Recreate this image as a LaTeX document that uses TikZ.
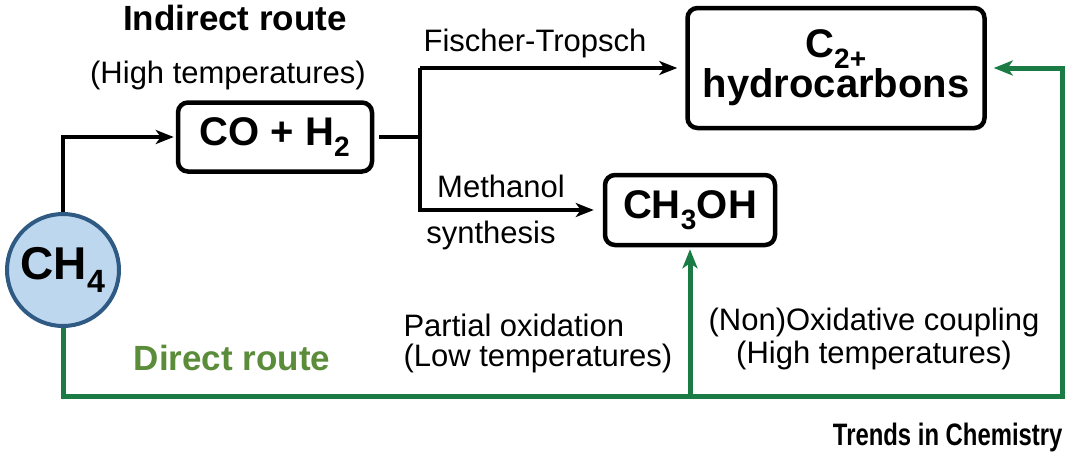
\documentclass[tikz,border=0pt]{standalone}
\usepackage{fontspec}
\setmainfont{Liberation Sans}
\usepackage{tikz}
\usetikzlibrary{arrows.meta,positioning,calc}
\definecolor{chfill}{HTML}{BDD7EE}
\definecolor{chedge}{HTML}{2E5A84}
\definecolor{routegreen}{HTML}{1B7B45}
\definecolor{labelgreen}{HTML}{5B8C3A}
\tikzset{
  prodbox/.style={draw, line width=4.5pt, rounded corners=10pt, fill=white, align=center,
    font=\fontsize{40}{42}\selectfont\bfseries},
  blackline/.style={line width=4.5pt, -{Stealth[length=18pt,width=14pt,inset=5pt]}},
  greenline/.style={line width=5pt, routegreen, -{Stealth[length=19pt,width=15pt,inset=5pt]}},
  routetext/.style={font=\fontsize{31}{33}\selectfont},
}
\newcommand{\RouteTitle}[4]{%
  \node[font=\fontsize{35}{37}\selectfont\bfseries, text=#4] (#1) at (#2) {#3};
}
\begin{document}
\begin{tikzpicture}[x=1pt,y=-1pt]
  \useasboundingbox (0,0) rectangle (1080,459);
  % species
  \node[circle, draw=chedge, line width=4pt, fill=chfill, minimum size=112pt,
    font=\fontsize{46}{48}\selectfont\bfseries] (ch4) at (63,270) {CH\textsubscript{4}};
  \node[prodbox, minimum width=194pt, minimum height=69pt] (syngas) at (275,137) {CO + H\textsubscript{2}};
  \node[prodbox, minimum width=297pt, minimum height=120pt] (ctwo) at (836,68) {C\textsubscript{2+}\\[-2pt]hydrocarbons};
  \node[prodbox, minimum width=170pt, minimum height=70pt] (meoh) at (690,210) {CH\textsubscript{3}OH};
  % corners
  \coordinate (fork) at (420,137);
  \coordinate (bend) at (1062,396);
  % indirect route
  \draw[blackline, shorten >=2pt] (ch4.north) |- (syngas.west);
  \draw[line width=4.5pt, shorten <=5pt] (syngas.east) -- (fork);
  \draw[blackline, shorten >=8pt] (fork |- ctwo.west) -- (ctwo.west);
  \draw[blackline, line join=miter, shorten >=9pt] (fork |- ctwo.west) |- (meoh.west);
  % direct route
  \draw[greenline, line join=miter, shorten >=7pt] (ch4.south) |- (bend) |- (ctwo.east);
  \draw[greenline, shorten >=2pt] (meoh.south |- bend) -- (meoh.south);
  % labels
  \RouteTitle{indirect}{235,18}{Indirect route}{black}
  \RouteTitle{direct}{232,358}{Direct route}{labelgreen}
  \node[routetext] (hightemp) at (228,75) {(High temperatures)};
  \node[routetext] (ft) at (535,43) {Fischer-Tropsch};
  \node[routetext] (meth) at (501,186) {Methanol};
  \node[routetext] (synth) at (491,235) {synthesis};
  \node[routetext, anchor=west] (partial) at (400,325) {Partial oxidation};
  \node[routetext, anchor=west] (lowtemp) at (400,358) {(Low temperatures)};
  \node[routetext] (coupling) at (874,322) {(Non)Oxidative coupling};
  \node[routetext] (hightemp2) at (874,355) {(High temperatures)};
  \node[anchor=east, font=\fontsize{31}{32}\selectfont\bfseries] (journal) at (1066,437)
    {\scalebox{0.77}[1]{Trends in Chemistry}};
\end{tikzpicture}
\end{document}
